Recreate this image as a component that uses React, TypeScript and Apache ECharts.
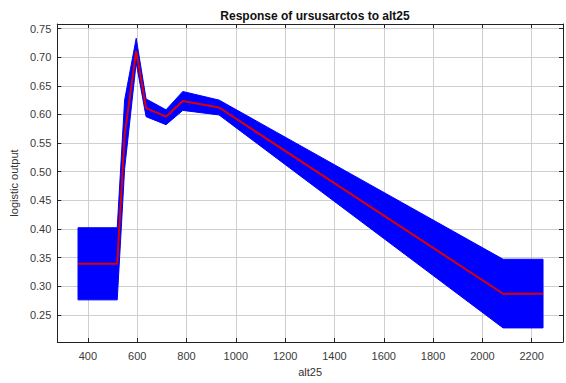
import React, { useEffect, useRef } from 'react';
import * as echarts from 'echarts';

const altValues = [360, 519, 549, 596, 636, 717, 785, 932, 2084, 2246];
const meanValues = [0.339, 0.339, 0.564, 0.711, 0.611, 0.596, 0.6235, 0.612, 0.2867, 0.2867];
const upperValues = [0.402, 0.402, 0.625, 0.733, 0.627, 0.608, 0.64, 0.625, 0.347, 0.347];
const lowerValues = [0.276, 0.276, 0.505, 0.69, 0.596, 0.582, 0.607, 0.599, 0.227, 0.227];
const xTickValues = [400, 600, 800, 1000, 1200, 1400, 1600, 1800, 2000, 2200];
const yTickValues = [0.25, 0.3, 0.35, 0.4, 0.45, 0.5, 0.55, 0.6, 0.65, 0.7, 0.75];

const X_MIN = 276;
const X_MAX = 2327;
const Y_MIN = 0.2024;
const Y_MAX = 0.7579;

const FONT = 'Liberation Sans, Arial, sans-serif';

export default function App() {
  const ref = useRef<HTMLDivElement>(null);
  useEffect(() => {
    if (!ref.current) return;
    const chart = echarts.init(ref.current, undefined, { renderer: 'svg' });
    const meanData = altValues.map((x, i) => [x, meanValues[i]]);
    const bandData = altValues.map((x, i) => [x, upperValues[i], lowerValues[i]]);
    const axisLine = { show: true, onZero: false, lineStyle: { color: '#222', width: 1 } };
    const splitLine = { show: true, lineStyle: { color: '#cfcfcf', width: 1 } };
    chart.setOption({
      animation: false,
      backgroundColor: '#fff',
      title: {
        text: 'Response of ursusarctos to alt25',
        left: 310,
        textAlign: 'center',
        top: 5,
        textStyle: { fontFamily: FONT, fontSize: 12, fontWeight: 'bold', color: '#111' },
      },
      grid: { left: 56, right: 3, top: 24, bottom: 41, containLabel: false },
      xAxis: [
        {
          type: 'value',
          min: X_MIN,
          max: X_MAX,
          position: 'bottom',
          name: 'alt25',
          nameLocation: 'middle',
          nameGap: 24,
          nameTextStyle: { fontFamily: FONT, fontSize: 11, color: '#333' },
          axisLine,
          axisTick: { show: true, inside: true, length: 4, customValues: xTickValues, lineStyle: { color: '#222' } },
          axisLabel: {
            customValues: xTickValues,
            fontFamily: FONT,
            fontSize: 11,
            color: '#3a3a3a',
            margin: 8,
            formatter: (v: number) => String(Math.round(v)),
          },
          splitLine,
        },
        {
          type: 'value',
          min: X_MIN,
          max: X_MAX,
          position: 'top',
          axisLine,
          axisTick: { show: true, inside: true, length: 4, customValues: xTickValues, lineStyle: { color: '#222' } },
          axisLabel: { show: false },
          splitLine: { show: false },
        },
      ],
      yAxis: [
        {
          type: 'value',
          min: Y_MIN,
          max: Y_MAX,
          position: 'left',
          name: 'logistic output',
          nameLocation: 'middle',
          nameGap: 25,
          nameTextStyle: { fontFamily: FONT, fontSize: 11, color: '#333' },
          axisLine,
          axisTick: { show: true, inside: true, length: 4, customValues: yTickValues, lineStyle: { color: '#222' } },
          axisLabel: {
            customValues: yTickValues,
            fontFamily: FONT,
            fontSize: 11,
            color: '#3a3a3a',
            margin: 6,
            formatter: (v: number) => v.toFixed(2),
          },
          splitLine,
        },
        {
          type: 'value',
          min: Y_MIN,
          max: Y_MAX,
          position: 'right',
          axisLine,
          axisTick: { show: true, inside: true, length: 4, customValues: yTickValues, lineStyle: { color: '#222' } },
          axisLabel: { show: false },
          splitLine: { show: false },
        },
      ],
      series: [
        {
          type: 'custom',
          name: 'band',
          data: bandData,
          encode: { x: 0, y: [1, 2] },
          silent: true,
          renderItem: (params: any, api: any) => {
            if (params.dataIndex !== 0) return null;
            const upperPts = altValues.map((x, i) => api.coord([x, upperValues[i]]));
            const lowerPts = altValues.map((x, i) => api.coord([x, lowerValues[i]])).reverse();
            return {
              type: 'polygon',
              shape: { points: upperPts.concat(lowerPts) },
              style: { fill: '#0000ff', stroke: '#0000ff', lineWidth: 1 },
            };
          },
        },
        {
          type: 'line',
          name: 'mean',
          data: meanData,
          symbol: 'none',
          lineStyle: { color: '#dd0000', width: 2 },
          silent: true,
          z: 3,
        },
      ],
    });
    return () => chart.dispose();
  }, []);
  return <div ref={ref} style={{ position: 'fixed', left: 0, top: 0, width: 566, height: 383 }} />;
}
